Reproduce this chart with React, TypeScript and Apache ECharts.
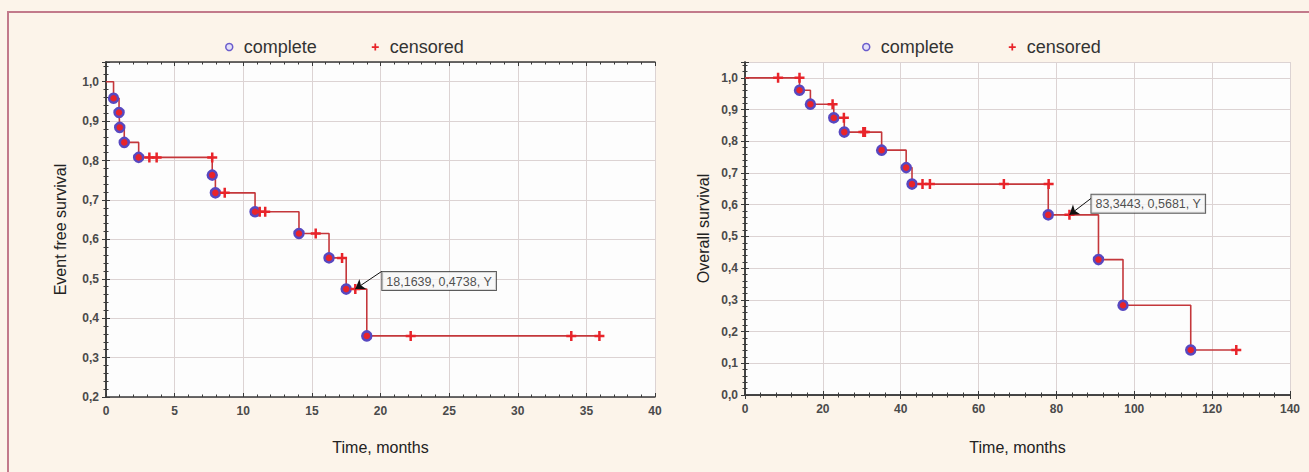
import React, { useEffect, useRef } from "react";
import * as echarts from "echarts";

// ---- Event free survival (left panel) ----
const efsCompleteT = [0.55, 0.95, 1.0, 1.33, 2.38, 7.74, 7.97, 10.86, 14.06, 16.25, 17.5, 19.0];
const efsCompleteS = [0.958, 0.922, 0.884, 0.846, 0.808, 0.763, 0.718, 0.67, 0.615, 0.553, 0.4738, 0.355];
const efsCensoredT = [3.16, 3.69, 7.74, 8.65, 11.2, 11.6, 15.28, 17.2, 18.1639, 22.2, 33.9, 35.95];
const efsCensoredS = [0.808, 0.808, 0.808, 0.718, 0.67, 0.67, 0.615, 0.553, 0.4738, 0.355, 0.355, 0.355];
const efsAnnot = [18.1639, 0.4738];

// ---- Overall survival (right panel) ----
const osCompleteT = [14.0, 16.8, 22.8, 25.5, 35.1, 41.4, 42.9, 77.9, 90.8, 97.1, 114.5];
const osCompleteS = [0.961, 0.917, 0.874, 0.829, 0.772, 0.717, 0.665, 0.5681, 0.427, 0.283, 0.142];
const osCensoredT = [8.5, 14.0, 22.5, 25.4, 30.4, 30.8, 45.6, 47.5, 66.5, 78.0, 83.3443, 126.2];
const osCensoredS = [1.0, 1.0, 0.917, 0.874, 0.829, 0.829, 0.665, 0.665, 0.665, 0.665, 0.5681, 0.142];
const osAnnot = [83.3443, 0.5681];

const legendNames = ["complete", "censored"];

const FONT = "'Liberation Sans', Arial, sans-serif";
const NARROW = "'Liberation Sans Narrow', 'Liberation Sans', Arial, sans-serif";
const LINE_COLOR = "#c4373b";
const RED = "#e8242a";
const PURPLE = "#5848c0";
const PLUS = "path://M3,0H5V3H8V5H5V8H3V5H0V3H3Z";

function zip(a: number[], b: number[]) {
  return a.map((v, i) => [v, b[i]]);
}

function curve(ct: number[], cs: number[], endT: number) {
  const pts: number[][] = [[0, 1]];
  ct.forEach((t, i) => pts.push([t, cs[i]]));
  pts.push([endT, cs[cs.length - 1]]);
  return pts;
}

const yFmt = (v: number) =>
  Math.abs(v * 10 - Math.round(v * 10)) > 1e-6 ? "" : v.toFixed(1).replace(".", ",");

function xAxes(grid: number, max: number, interval: number, nameGap: number) {
  const line = { lineStyle: { color: "#3a3a3a", width: 1.5 } };
  const tick = { inside: true, length: 4, lineStyle: { color: "#3a3a3a" } };
  const minor = { show: true, splitNumber: 5, length: 2.5, lineStyle: { color: "#3a3a3a" } };
  return [
    {
      gridIndex: grid, type: "value", min: 0, max, interval, position: "bottom",
      axisLine: line, axisTick: tick, minorTick: minor,
      splitLine: { show: true, lineStyle: { color: "#dcd3d3" } },
      axisLabel: { color: "#4a4a4a", fontSize: 12, fontWeight: "bold", fontFamily: NARROW, margin: 8 },
      name: "Time, months", nameLocation: "middle", nameGap,
      nameTextStyle: { fontSize: 16, color: "#222", fontFamily: FONT },
    },
    {
      gridIndex: grid, type: "value", min: 0, max, interval, position: "top",
      axisLine: line, axisTick: tick, minorTick: minor,
      splitLine: { show: false }, axisLabel: { show: false },
    },
  ];
}

function yAxes(grid: number, min: number, name: string, nameGap: number) {
  const line = { lineStyle: { color: "#3a3a3a", width: 1.5 } };
  const tick = { inside: true, length: 4, lineStyle: { color: "#3a3a3a" } };
  const minor = { show: true, splitNumber: 5, length: 2.5, lineStyle: { color: "#3a3a3a" } };
  return [
    {
      gridIndex: grid, type: "value", min, max: 1.05, interval: 0.1, position: "left",
      axisLine: line, axisTick: tick, minorTick: minor,
      splitLine: { show: true, lineStyle: { color: "#dcd3d3" } },
      axisLabel: { color: "#4a4a4a", fontSize: 12, fontWeight: "bold", fontFamily: NARROW, margin: 7, formatter: yFmt },
      name, nameLocation: "middle", nameGap, nameRotate: 90,
      nameTextStyle: { fontSize: 16, color: "#222", fontFamily: FONT },
    },
    {
      gridIndex: grid, type: "value", min, max: 1.05, interval: 0.1, position: "right",
      axisLine: line, axisTick: tick, minorTick: minor,
      splitLine: { show: false }, axisLabel: { show: false },
    },
  ];
}

function panelSeries(
  axisX: number, axisY: number,
  ct: number[], cs: number[], et: number[], es: number[],
  annot: number[], labelOffset: number[], arrowEnd: number[], endT: number
) {
  return [
    {
      type: "line", name: "curve", xAxisIndex: axisX, yAxisIndex: axisY,
      data: curve(ct, cs, endT), step: "end", showSymbol: false, symbol: "none",
      lineStyle: { color: LINE_COLOR, width: 1.6 }, z: 2, silent: true,
    },
    {
      type: "scatter", name: "complete", xAxisIndex: axisX, yAxisIndex: axisY,
      data: zip(ct, cs), symbol: "circle", symbolSize: 9,
      itemStyle: { color: RED, borderColor: PURPLE, borderWidth: 2.5, opacity: 1 }, z: 3,
    },
    {
      type: "scatter", name: "censored", xAxisIndex: axisX, yAxisIndex: axisY,
      data: zip(et, es), symbol: PLUS, symbolSize: 10,
      itemStyle: { color: RED, opacity: 1 }, z: 4,
    },
    {
      type: "scatter", name: "annotation", xAxisIndex: axisX, yAxisIndex: axisY,
      data: [annot], symbol: "circle", symbolSize: 2,
      itemStyle: { color: "rgba(0,0,0,0)" }, z: 6, silent: true,
      label: {
        show: true, position: labelOffset,
        formatter: () =>
          `${annot[0].toFixed(4).replace(".", ",")}, ${annot[1].toFixed(4).replace(".", ",")}, Y`,
        fontSize: 12.5, fontFamily: FONT, color: "#222",
        backgroundColor: "#f6f6f6", borderColor: "#333", borderWidth: 1,
        padding: [3, 4, 2, 4],
      },
      markLine: {
        silent: true, animation: false,
        symbol: ["arrow", "none"], symbolSize: 9,
        label: { show: false },
        lineStyle: { color: "#111", width: 1, type: "solid" },
        data: [[{ coord: annot }, { coord: arrowEnd }]],
      },
    },
  ];
}

export default function App() {
  const ref = useRef<HTMLDivElement>(null);

  useEffect(() => {
    document.body.style.margin = "0";
    if (!ref.current) return;
    const chart = echarts.init(ref.current, null, { renderer: "svg" });

    const legendData = [
      {
        name: legendNames[0], icon: "circle",
        itemStyle: { color: "#e4e0f8", borderColor: "#6a5ccc", borderWidth: 1.5 },
      },
      { name: legendNames[1], icon: PLUS, itemStyle: { color: RED } },
    ];
    const legendCommon = {
      top: 33, itemWidth: 7, itemHeight: 7, itemGap: 55, data: legendData,
      textStyle: { fontSize: 18, color: "#333", fontFamily: FONT, padding: [0, 0, 0, 6] },
      selectedMode: false,
    };

    chart.setOption({
      animation: false,
      backgroundColor: "transparent",
      legend: [
        { ...legendCommon, left: 220 },
        { ...legendCommon, left: 857 },
      ],
      grid: [
        { left: 106, top: 62, width: 549, height: 335, show: true, backgroundColor: "#fdfdfd", borderWidth: 0 },
        { left: 745, top: 62, width: 545, height: 333, show: true, backgroundColor: "#fdfdfd", borderWidth: 0 },
      ],
      xAxis: [...xAxes(0, 40, 5, 42), ...xAxes(1, 140, 20, 44)],
      yAxis: [...yAxes(0, 0.2, "Event free survival", 38), ...yAxes(1, 0, "Overall survival", 34)],
      series: [
        ...panelSeries(0, 0, efsCompleteT, efsCompleteS, efsCensoredT, efsCensoredS,
          efsAnnot, [28, -16], [20.1, 0.519], efsCensoredT[efsCensoredT.length - 1]),
        ...panelSeries(2, 2, osCompleteT, osCompleteS, osCensoredT, osCensoredS,
          osAnnot, [23, -19], [88.9, 0.62], osCensoredT[osCensoredT.length - 1]),
      ],
    });

    return () => chart.dispose();
  }, []);

  return (
    <div style={{ position: "relative", width: 1309, height: 472, background: "#fcf4ea", overflow: "hidden" }}>
      <div
        style={{
          position: "absolute", left: 7, top: 11, right: 0, bottom: 0,
          borderTop: "2px solid #c27a8b", borderLeft: "2px solid #c27a8b",
        }}
      />
      <div ref={ref} style={{ position: "absolute", left: 0, top: 0, width: 1309, height: 472 }} />
    </div>
  );
}
